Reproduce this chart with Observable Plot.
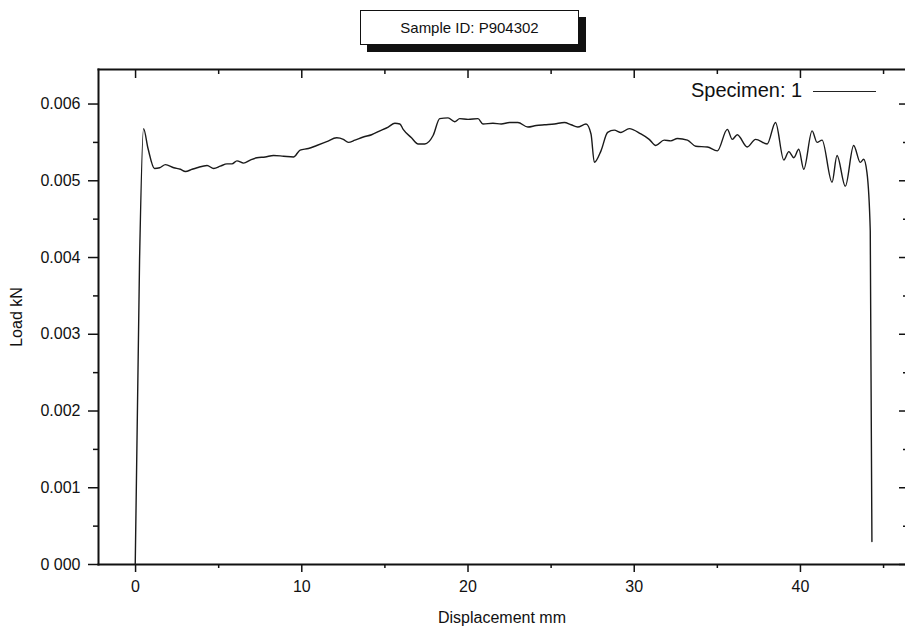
<!DOCTYPE html>
<html>
<head>
<meta charset="utf-8">
<script src="https://cdn.jsdelivr.net/npm/d3@7"></script>
<script src="https://cdn.jsdelivr.net/npm/@observablehq/plot@0.6"></script>
<style>
  html, body { margin: 0; padding: 0; background: #fff; overflow: hidden; }
  #wrap { position: relative; width: 905px; height: 627px; font-family: "Liberation Sans", Arial, sans-serif; color: #111; }
  #head { position: relative; height: 60px; }
  #title { position: absolute; left: 360px; top: 10px; width: 219px; height: 35px; box-sizing: border-box;
           border: 1px solid #111; box-shadow: 7px 7px 0 #111; background: #fff;
           text-align: center; font-size: 15px; line-height: 33px; }
  #legend { position: absolute; left: 691px; top: 80px; font-size: 20px; line-height: 20px; white-space: nowrap; }
  #swatch { position: absolute; left: 813px; top: 91px; width: 63px; height: 0; border-top: 1.5px solid #222; }
</style>
</head>
<body>
<div id="wrap">
  <div id="head"><div id="title">Sample ID: P904302</div></div>
  <div id="chart"></div>
  <div id="legend">Specimen: 1</div>
  <div id="swatch"></div>
</div>
<script>
// Displacement (mm) and load (kN)
const displacement = [
  -0.02, 0.24, 0.48, 0.75, 1.14, 1.45, 1.8, 2.3, 2.7, 3.0, 3.4, 3.7, 4.3, 4.7, 5.1, 5.5, 5.8, 6.1, 6.5, 6.9,
  7.3, 7.8, 8.3, 8.9, 9.5, 9.9, 10.4, 10.9, 11.5, 12.1, 12.5, 12.8, 13.2, 13.7, 14.2, 14.7, 15.2, 15.6, 15.9, 16.1,
  16.6, 17.0, 17.4, 17.9, 18.3, 18.8, 19.2, 19.5, 20.0, 20.6, 20.9, 21.5, 22.0, 22.5, 23.0, 23.6, 24.1, 24.6, 25.2, 25.8,
  26.2, 26.6, 27.1, 27.4, 27.6, 28.0, 28.4, 28.8, 29.2, 29.7, 30.4, 30.9, 31.3, 31.8, 32.2, 32.6, 33.2, 33.7, 34.4, 35.0,
  35.6, 35.9, 36.2, 36.8, 37.3, 38.0, 38.5, 39.0, 39.3, 39.6, 39.9, 40.2, 40.7, 41.0, 41.3, 41.9, 42.2, 42.7, 43.2, 43.6,
  43.8, 44.0, 44.2, 44.3
];
const load = [
  0.00000, 0.00396, 0.00568, 0.00542, 0.00516, 0.00517, 0.00521, 0.00517, 0.00515, 0.00512, 0.00515, 0.00517, 0.00520, 0.00516, 0.00519, 0.00522, 0.00522, 0.00526, 0.00523, 0.00527,
  0.00530, 0.00531, 0.00533, 0.00532, 0.00531, 0.00540, 0.00542, 0.00546, 0.00551, 0.00556, 0.00554, 0.00550, 0.00553, 0.00557, 0.00560, 0.00565, 0.00570, 0.00575, 0.00574, 0.00567,
  0.00556, 0.00548, 0.00548, 0.00559, 0.00581, 0.00582, 0.00577, 0.00581, 0.00580, 0.00581, 0.00574, 0.00575, 0.00574, 0.00576, 0.00576, 0.00570, 0.00572, 0.00573, 0.00574, 0.00576,
  0.00573, 0.00570, 0.00574, 0.00561, 0.00524, 0.00539, 0.00563, 0.00566, 0.00563, 0.00568, 0.00561, 0.00554, 0.00546, 0.00553, 0.00552, 0.00555, 0.00553, 0.00545, 0.00544, 0.00539,
  0.00567, 0.00554, 0.00560, 0.00544, 0.00554, 0.00548, 0.00576, 0.00527, 0.00538, 0.00530, 0.00541, 0.00515, 0.00565, 0.00550, 0.00553, 0.00498, 0.00533, 0.00493, 0.00546, 0.00524,
  0.00528, 0.00511, 0.00435, 0.00030
];

const xMajor = [0, 10, 20, 30, 40];
const xMinor = [5, 15, 25, 35, 45];
const yMajor = [0, 0.001, 0.002, 0.003, 0.004, 0.005, 0.006];
const yMajorLabels = ["0 000", "0.001", "0.002", "0.003", "0.004", "0.005", "0.006"];
const yMinor = [0.0005, 0.0015, 0.0025, 0.0035, 0.0045, 0.0055];

const curve = displacement.map((d, i) => ({x: d, y: load[i]}));

const chart = Plot.plot({
  width: 905,
  height: 567,
  marginTop: 9,
  marginBottom: 63,
  marginLeft: 98,
  marginRight: 0,
  style: {fontFamily: "'Liberation Sans', Arial, sans-serif", fontSize: "15px", color: "#111", background: "#fff", overflow: "visible"},
  x: {domain: [-2.23, 46.32]},
  y: {domain: [0, 0.00645]},
  marks: [
    Plot.frame({anchor: "top", stroke: "#111", strokeWidth: 2}),
    Plot.frame({anchor: "left", stroke: "#111", strokeWidth: 2}),
    Plot.frame({anchor: "bottom", stroke: "#111", strokeWidth: 2}),
    // bottom axis
    Plot.axisX({anchor: "bottom", ticks: xMajor, tickSize: 8, tickPadding: 8, tickFormat: d => String(d),
      fontSize: 16, strokeWidth: 1.5, label: "Displacement mm", labelAnchor: "center", labelOffset: 58, labelArrow: "none"}),
    Plot.axisX({anchor: "bottom", ticks: xMinor, tickSize: 4, text: null, label: null, strokeWidth: 1.5}),
    // top ticks (inward)
    Plot.axisX({anchor: "top", ticks: xMajor, tickSize: 8, dy: 8, text: null, label: null, strokeWidth: 1.5}),
    Plot.axisX({anchor: "top", ticks: xMinor, tickSize: 4, dy: 4, text: null, label: null, strokeWidth: 1.5}),
    // left axis
    Plot.axisY({anchor: "left", ticks: yMajor, tickSize: 10, tickPadding: 8,
      tickFormat: d => yMajorLabels[yMajor.indexOf(d)], fontSize: 16, strokeWidth: 1.5,
      label: "Load kN", labelAnchor: "center", labelOffset: 88, labelArrow: "none"}),
    Plot.axisY({anchor: "left", ticks: yMinor, tickSize: 5, text: null, label: null, strokeWidth: 1.5}),
    // right ticks (inward)
    Plot.axisY({anchor: "right", ticks: yMajor, tickSize: 7, dx: -7, text: null, label: null, strokeWidth: 1.5}),
    Plot.axisY({anchor: "right", ticks: yMinor, tickSize: 3, dx: -3, text: null, label: null, strokeWidth: 1.5}),
    // data
    Plot.line(curve, {x: "x", y: "y", stroke: "#1a1a1a", strokeWidth: 1.4, curve: "monotone-x"})
  ]
});
document.getElementById("chart").appendChild(chart);
</script>
</body>
</html>
